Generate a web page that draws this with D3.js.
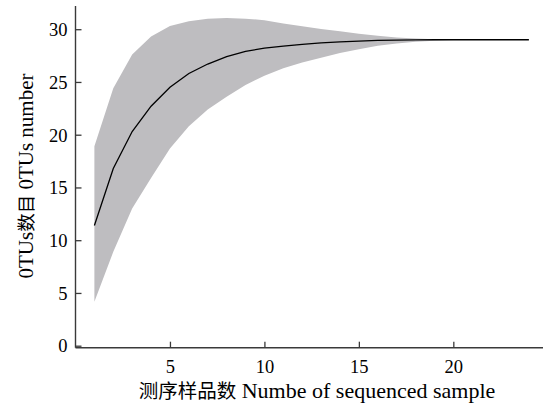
<!DOCTYPE html>
<html><head><meta charset="utf-8">
<script src="https://cdn.jsdelivr.net/npm/d3@7"></script>
<style>body{margin:0;background:#fff}svg{display:block}svg text{font-family:'Liberation Serif','Times New Roman',serif}</style>
</head><body>
<svg id="c" width="543" height="409"></svg>
<script>
const samples = [1,2,3,4,5,6,7,8,9,10,11,12,13,14,15,16,17,18,19,20,21,22,23,24];
const meanOTU = [11.4,16.8,20.3,22.7,24.5,25.8,26.7,27.4,27.9,28.2,28.4,28.57,28.7,28.8,28.88,28.94,28.97,28.99,29,29,29,29,29,29];
const upperOTU = [18.9,24.4,27.6,29.3,30.3,30.75,31.0,31.06,31.0,30.85,30.55,30.27,30.03,29.8,29.57,29.38,29.22,29.12,29.05,29,29,29,29,29];
const lowerOTU = [4.17,8.9,13.0,15.9,18.7,20.8,22.4,23.6,24.7,25.6,26.3,26.85,27.3,27.75,28.1,28.43,28.65,28.8,28.9,28.97,29,29,29,29];
const xTicks = [5,10,15,20];
const yTicks = [0,5,10,15,20,25,30];
const xTitleCJK = "测序样品数", xTitleEN = " Numbe of sequenced sample";
const yTitleA = "0TUs", yTitleCJK = "数目", yTitleB = " 0TUs number";

const svg = d3.select("#c");
const x = d3.scaleLinear().domain([0,24.8]).range([75.5,544]);
const y = d3.scaleLinear().domain([0,32.2]).range([345.7,6]);
const serif = "'Liberation Serif','Times New Roman',serif";
const cjk = "'Noto Sans CJK SC',sans-serif";
const axisColor = "#3a3a3a";

const data = samples.map((s,i)=>({s, m:meanOTU[i], u:upperOTU[i], l:lowerOTU[i]}));

svg.append("path").datum(data)
  .attr("fill","#bebdc0")
  .attr("d", d3.area().x(d=>x(d.s)).y0(d=>y(d.l)).y1(d=>y(d.u)));

svg.append("path").datum(data)
  .attr("fill","none").attr("stroke","#000").attr("stroke-width",1.3)
  .attr("d", d3.line().x(d=>x(d.s)).y(d=>y(d.m)));

const xAxisY = y(0)+2;
const gx = svg.append("g").attr("transform",`translate(0,${xAxisY})`)
  .call(d3.axisBottom(x).tickValues(xTicks).tickSize(-6).tickSizeOuter(0));
gx.attr("font-family",null).attr("font-size",null);
gx.select(".domain").attr("stroke",axisColor).attr("stroke-width",1.4).attr("d",`M${x(0)},0H543`);
gx.selectAll(".tick line").attr("stroke",axisColor).attr("stroke-width",1.3);
gx.selectAll(".tick text").style("font-family",serif).style("font-size","18.5px").attr("fill","#000").attr("dy",null).attr("y",25);

const gy = svg.append("g").attr("transform",`translate(${x(0)},0)`)
  .call(d3.axisLeft(y).tickValues(yTicks).tickSize(-6).tickSizeOuter(0));
gy.attr("font-family",null).attr("font-size",null);
gy.select(".domain").attr("stroke",axisColor).attr("stroke-width",1.4).attr("d",`M0,6V${xAxisY}`);
gy.selectAll(".tick line").attr("stroke",axisColor).attr("stroke-width",1.3);
gy.selectAll(".tick text").style("font-family",serif).style("font-size","18.5px").attr("fill","#000").attr("x",-8).attr("dy","0.34em");

const xt = svg.append("text").attr("x",317).attr("y",398).attr("text-anchor","middle")
  .style("font-family",serif).style("font-size","22px").attr("fill","#000");
xt.append("tspan").style("font-family",cjk).style("font-size","19.5px").text(xTitleCJK);
xt.append("tspan").text(xTitleEN);

const yt = svg.append("text").attr("transform","translate(33,176) rotate(-90)").attr("text-anchor","middle")
  .style("font-family",serif).style("font-size","21px").attr("fill","#000");
yt.append("tspan").text(yTitleA);
yt.append("tspan").style("font-family",cjk).style("font-size","18.5px").text(yTitleCJK);
yt.append("tspan").text(yTitleB);
</script>
</body></html>
